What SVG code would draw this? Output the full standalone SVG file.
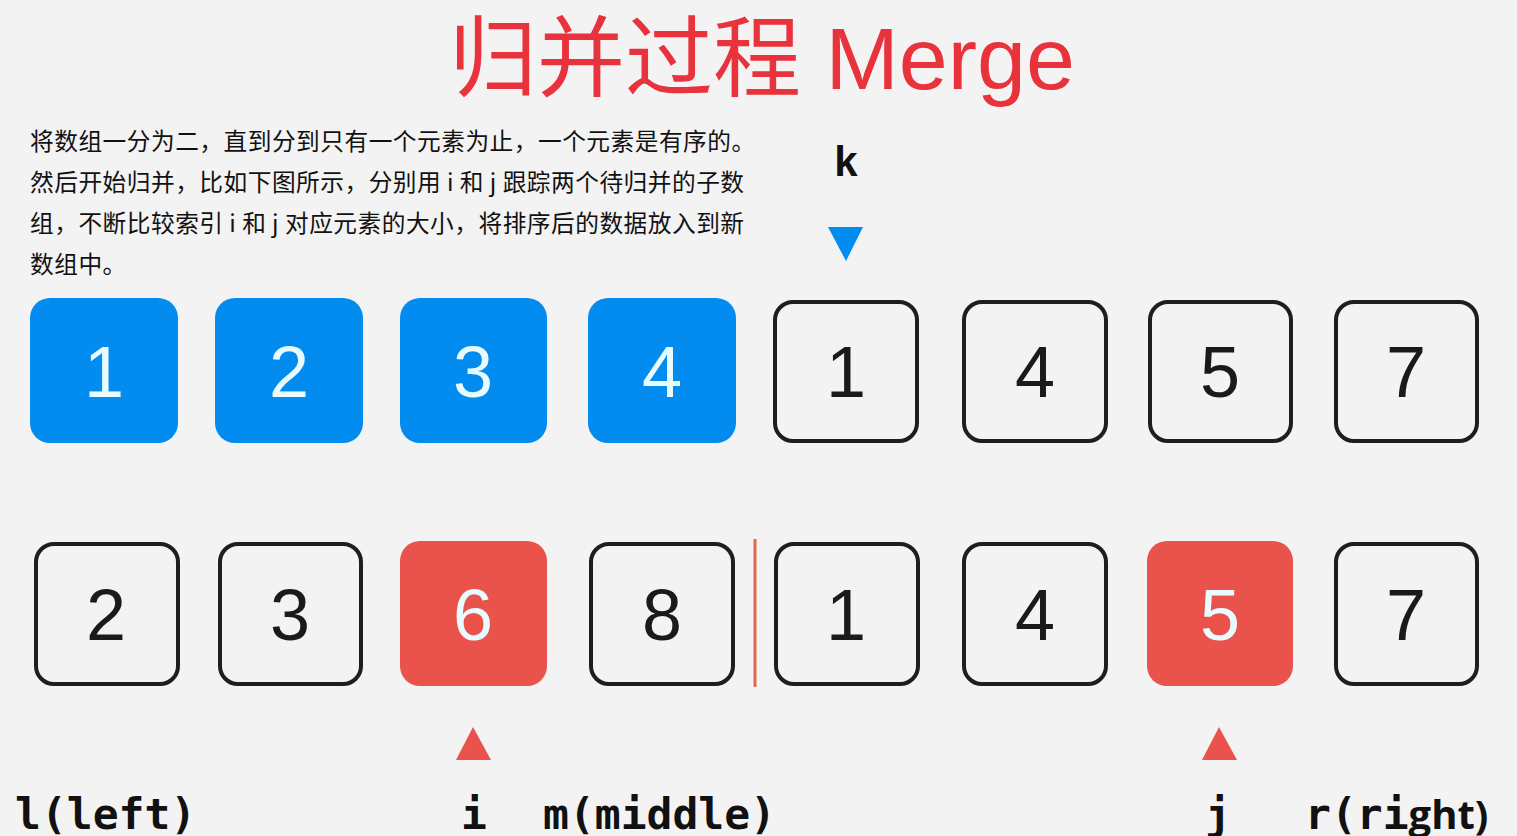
<svg xmlns="http://www.w3.org/2000/svg" width="1517" height="836" viewBox="0 0 1517 836">
<style>
.bg{fill:#f3f3f3}
.blue{fill:#038cf0}
.red{fill:#ea524c}
.out{fill:none;stroke:#1e1e1e;stroke-width:4}
.dw{font-family:"Liberation Sans",Arial,sans-serif;font-size:72px;fill:#e8fbff;text-anchor:middle}
.dk{font-family:"Liberation Sans",Arial,sans-serif;font-size:72px;fill:#1a1a1a;text-anchor:middle}
.para{font-family:"Noto Sans CJK SC","Noto Sans",sans-serif;font-size:23.7px;letter-spacing:0.5px;fill:#111}
.mono{font-family:"DejaVu Sans Mono",monospace;font-weight:bold;font-size:43px;fill:#111}
</style>
<rect class="bg" x="0" y="0" width="1517" height="836"/>
<g id="title">
<text x="449" y="89" font-family="Liberation Sans,Noto Sans CJK SC,sans-serif" font-size="88" fill="#e8323c"><tspan font-family="Noto Sans CJK SC,sans-serif">归并过程</tspan> Merge</text>
</g>
<g id="description" class="para">
<text x="30" y="150">将数组一分为二，直到分到只有一个元素为止，一个元素是有序的。</text>
<text x="30" y="191">然后开始归并，比如下图所示，分别用 i 和 j 跟踪两个待归并的子数</text>
<text x="30" y="232">组，不断比较索引 i 和 j 对应元素的大小，将排序后的数据放入到新</text>
<text x="30" y="273">数组中。</text>
</g>
<g id="k-pointer">
<text x="846" y="176" font-family="Liberation Sans,Arial,sans-serif" font-weight="bold" font-size="42" fill="#111" text-anchor="middle">k</text>
<polygon points="828,227 863,227 846,261" class="blue"/>
</g>
<g id="top-1"><rect class="blue" x="30" y="298" width="148" height="145" rx="20"/><text class="dw" x="104" y="397">1</text></g>
<g id="top-2"><rect class="blue" x="215" y="298" width="148" height="145" rx="20"/><text class="dw" x="289" y="397">2</text></g>
<g id="top-3"><rect class="blue" x="400" y="298" width="147" height="145" rx="20"/><text class="dw" x="473" y="397">3</text></g>
<g id="top-4"><rect class="blue" x="588" y="298" width="148" height="145" rx="20"/><text class="dw" x="662" y="397">4</text></g>
<g id="top-5"><rect class="out" x="775" y="302" width="142" height="139" rx="18"/><text class="dk" x="846" y="397">1</text></g>
<g id="top-6"><rect class="out" x="964" y="302" width="142" height="139" rx="18"/><text class="dk" x="1035" y="397">4</text></g>
<g id="top-7"><rect class="out" x="1150" y="302" width="141" height="139" rx="18"/><text class="dk" x="1220" y="397">5</text></g>
<g id="top-8"><rect class="out" x="1336" y="302" width="141" height="139" rx="18"/><text class="dk" x="1406" y="397">7</text></g>
<g id="bot-1"><rect class="out" x="36" y="544" width="142" height="140" rx="18"/><text class="dk" x="106" y="640">2</text></g>
<g id="bot-2"><rect class="out" x="220" y="544" width="141" height="140" rx="18"/><text class="dk" x="290" y="640">3</text></g>
<g id="bot-3"><rect class="red" x="400" y="541" width="147" height="145" rx="20"/><text class="dw" x="473" y="640">6</text></g>
<g id="bot-4"><rect class="out" x="591" y="544" width="142" height="140" rx="18"/><text class="dk" x="662" y="640">8</text></g>
<g id="bot-5"><rect class="out" x="776" y="544" width="142" height="140" rx="18"/><text class="dk" x="846" y="640">1</text></g>
<g id="bot-6"><rect class="out" x="964" y="544" width="142" height="140" rx="18"/><text class="dk" x="1035" y="640">4</text></g>
<g id="bot-7"><rect class="red" x="1147" y="541" width="146" height="145" rx="20"/><text class="dw" x="1220" y="640">5</text></g>
<g id="bot-8"><rect class="out" x="1336" y="544" width="141" height="140" rx="18"/><text class="dk" x="1406" y="640">7</text></g>
<g id="connectors">
<line x1="755" y1="539" x2="755" y2="687" stroke="#e5664e" stroke-width="3"/>
<polygon points="473,727 456,760 491,760" class="red"/>
<polygon points="1219,727 1202,760 1237,760" class="red"/>
</g>
<g id="labels" class="mono">
<text x="15" y="829">l(left)</text>
<text x="461" y="829">i</text>
<text x="543" y="829">m(middle)</text>
<text x="1205" y="829">j</text>
<text x="1305" y="829">r(ri<tspan font-family="Open Sans,Liberation Sans,sans-serif" font-size="40">ght)</tspan></text>
</g>
</svg>
